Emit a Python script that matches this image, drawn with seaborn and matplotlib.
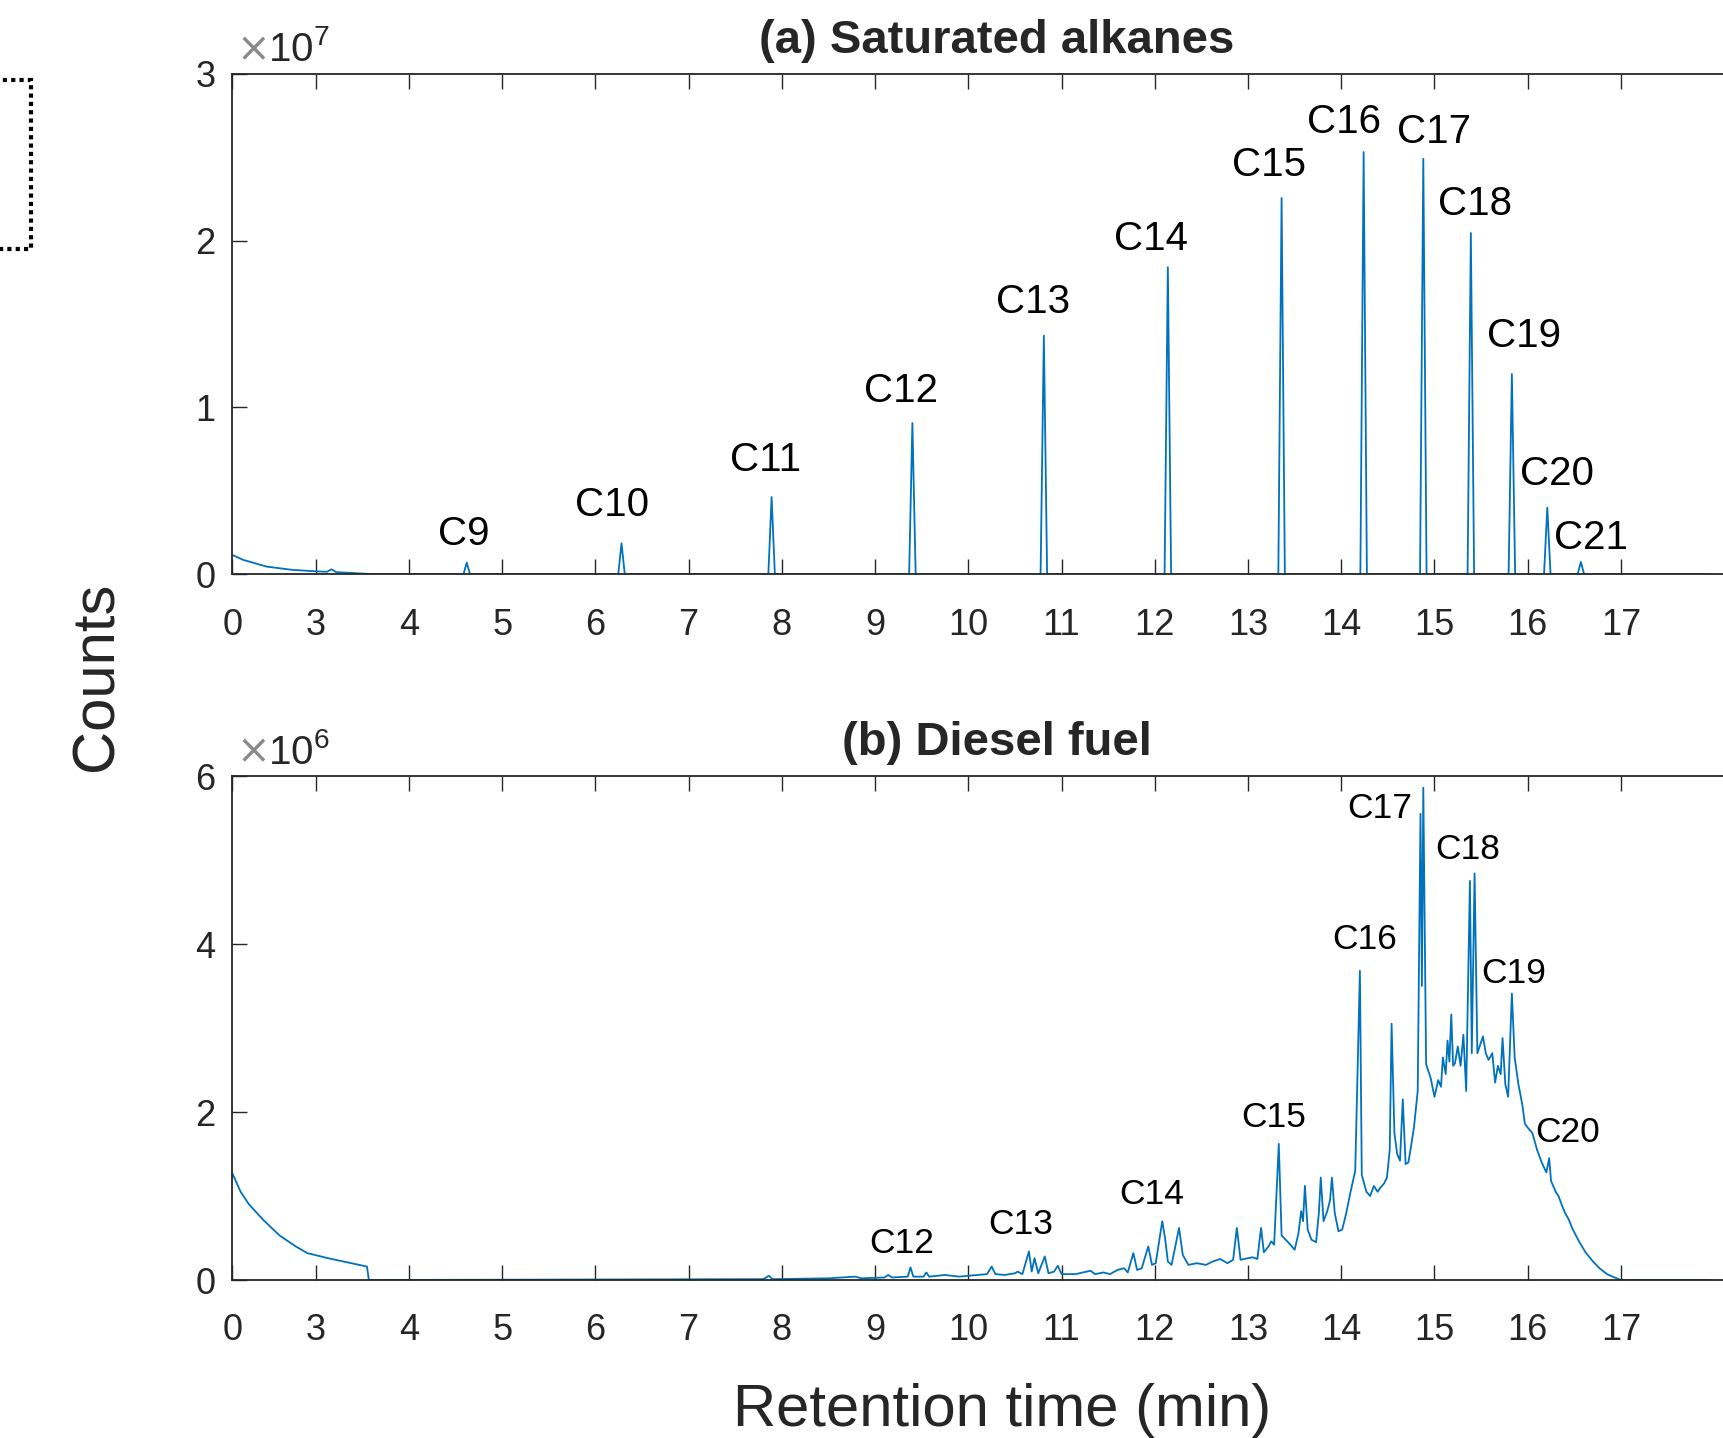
import numpy as np
import pandas as pd
import matplotlib
matplotlib.use("Agg")
import matplotlib.pyplot as plt
import seaborn as sns
from matplotlib.patches import Rectangle
from matplotlib.ticker import FixedLocator, FuncFormatter

# ---- (a) saturated alkane standard -------------------------------------
# solvent tail / baseline before the first peak (min, counts)
std_base_t = [0.0, 0.4, 1.24, 2.19, 3.03, 3.12, 3.17, 3.22, 3.65, 17.96]
std_base_c = [1.16e6, 0.86e6, 0.46e6, 0.26e6, 0.17e6, 0.15e6, 0.30e6, 0.13e6, 0.0, 0.0]

std_names = ['C9', 'C10', 'C11', 'C12', 'C13', 'C14', 'C15', 'C16', 'C17',
             'C18', 'C19', 'C20', 'C21']
std_rt = [4.62, 6.28, 7.89, 9.40, 10.81, 12.14, 13.36, 14.24, 14.88,
          15.39, 15.83, 16.21, 16.57]
std_height = [0.07e7, 0.186e7, 0.463e7, 0.906e7, 1.43e7, 1.84e7, 2.255e7,
              2.53e7, 2.49e7, 2.045e7, 1.20e7, 0.40e7, 0.074e7]
# where the peak names sit
std_lab_t = [4.59, 6.18, 7.82, 9.28, 10.69, 11.96, 13.22, 14.03, 14.99,
             15.43, 15.96, 16.31, 16.68]
std_lab_c = [0.244e7, 0.415e7, 0.685e7, 1.10e7, 1.63e7, 2.01e7, 2.45e7,
             2.71e7, 2.65e7, 2.22e7, 1.43e7, 0.60e7, 0.215e7]

# ---- (b) diesel fuel trace (min, counts in millions) ---------------------
diesel_t = [0.00, 0.30, 0.60, 1.13, 1.70, 2.28, 2.70, 3.13, 3.47, 3.55, 3.57,
            7.80, 7.86, 7.90, 8.50, 8.79, 8.85, 9.10, 9.14, 9.18, 9.35, 9.38,
            9.41, 9.52, 9.55, 9.58, 9.75, 9.90, 10.10, 10.20, 10.25, 10.29,
            10.39, 10.50, 10.53, 10.58, 10.65, 10.68, 10.71, 10.75, 10.82,
            10.86, 10.92, 10.96, 11.00, 11.15, 11.31, 11.36, 11.45, 11.52,
            11.60, 11.67, 11.71, 11.77, 11.81, 11.86, 11.93, 11.97, 12.01,
            12.08, 12.11, 12.14, 12.18, 12.26, 12.30, 12.36, 12.45, 12.55,
            12.62, 12.70, 12.78, 12.84, 12.88, 12.92, 13.00, 13.05, 13.10,
            13.14, 13.17, 13.22, 13.25, 13.28, 13.33, 13.36, 13.43, 13.50,
            13.54, 13.57, 13.59, 13.61, 13.64, 13.68, 13.73, 13.76, 13.78,
            13.81, 13.85, 13.88, 13.90, 13.93, 13.97, 14.01, 14.05, 14.10,
            14.15, 14.20, 14.22, 14.27, 14.31, 14.35, 14.39, 14.42, 14.46,
            14.49, 14.52, 14.54, 14.57, 14.60, 14.63, 14.66, 14.69, 14.72,
            14.75, 14.78, 14.82, 14.85, 14.865, 14.88, 14.91, 14.96, 15.00,
            15.04, 15.07, 15.09, 15.12, 15.14, 15.16, 15.18, 15.20, 15.22,
            15.25, 15.28, 15.31, 15.34, 15.38, 15.40, 15.43, 15.46, 15.49,
            15.52, 15.55, 15.58, 15.62, 15.65, 15.68, 15.71, 15.73, 15.76,
            15.79, 15.83, 15.86, 15.90, 15.94, 15.97, 16.01, 16.05, 16.10,
            16.15, 16.20, 16.23, 16.25, 16.30, 16.33, 16.37, 16.40, 16.44,
            16.48, 16.55, 16.62, 16.70, 16.77, 16.85, 16.91, 17.00, 17.96]
diesel_c = [1.27, 1.05, 0.90, 0.71, 0.53, 0.40, 0.32, 0.26, 0.18, 0.16, 0.0,
            0.01, 0.05, 0.01, 0.02, 0.04, 0.02, 0.03, 0.06, 0.03, 0.04, 0.15,
            0.04, 0.04, 0.09, 0.04, 0.06, 0.04, 0.06, 0.07, 0.16, 0.07,
            0.06, 0.08, 0.10, 0.07, 0.34, 0.10, 0.26, 0.08, 0.28,
            0.08, 0.10, 0.17, 0.07, 0.07, 0.11, 0.07, 0.09, 0.07,
            0.12, 0.14, 0.09, 0.32, 0.12, 0.14, 0.40, 0.18, 0.20,
            0.70, 0.50, 0.22, 0.18, 0.62, 0.30, 0.18, 0.20, 0.18,
            0.22, 0.25, 0.20, 0.24, 0.62, 0.24, 0.26, 0.27, 0.25,
            0.62, 0.33, 0.40, 0.46, 0.42, 1.62, 0.53, 0.45, 0.36,
            0.55, 0.82, 0.70, 1.12, 0.60, 0.48, 0.45, 0.80, 1.22,
            0.70, 0.82, 0.95, 1.22, 0.80, 0.58, 0.60, 0.78, 1.05,
            1.30, 3.68, 1.25, 1.05, 1.00, 1.12, 1.05, 1.10, 1.15,
            1.22, 1.55, 3.05, 1.75, 1.50, 1.42, 2.15, 1.38, 1.40,
            1.60, 1.82, 2.25, 5.55, 3.50, 5.86, 2.57, 2.40, 2.18,
            2.38, 2.30, 2.65, 2.45, 2.85, 2.60, 3.16, 2.55, 2.58,
            2.78, 2.55, 2.92, 2.25, 4.75, 2.70, 4.84, 2.70, 2.80,
            2.90, 2.70, 2.62, 2.70, 2.35, 2.55, 2.45, 2.88, 2.33,
            2.18, 3.41, 2.65, 2.33, 2.10, 1.86, 1.80, 1.75, 1.55,
            1.40, 1.28, 1.45, 1.18, 1.05, 1.00, 0.88, 0.80, 0.72,
            0.61, 0.46, 0.33, 0.22, 0.14, 0.07, 0.04, 0.0, 0.0]

diesel_names = ['C12', 'C13', 'C14', 'C15', 'C16', 'C17', 'C18', 'C19', 'C20']
diesel_lab_t = [9.29, 10.56, 11.97, 13.27, 14.25, 14.41, 15.36, 15.85, 16.43]
diesel_lab_c = [0.43e6, 0.66e6, 1.02e6, 1.93e6, 4.05e6, 5.61e6, 5.12e6,
                3.65e6, 1.76e6]

x_ticks = [0, 3, 4, 5, 6, 7, 8, 9, 10, 11, 12, 13, 14, 15, 16, 17]

LINE = '#0072BD'
DARK = '#262626'
PEAK_HW = 0.035   # half width of a peak at its base, min


def squeeze(t):
    # first three minutes (solvent delay) are drawn compressed
    t = np.asarray(t, dtype=float)
    return np.where(t < 3, t * 0.2982, t - 3 + 0.8946)


def unsqueeze(u):
    u = np.asarray(u, dtype=float)
    return np.where(u < 0.8946, u / 0.2982, u + 3 - 0.8946)


# build the standard's trace from baseline + peaks
pts = list(zip(std_base_t, std_base_c))
for rt, h in zip(std_rt, std_height):
    pts += [(rt - PEAK_HW, 0.0), (rt, h), (rt + PEAK_HW, 0.0)]
pts.sort()
std_df = pd.DataFrame(pts, columns=['time', 'counts'])
diesel_df = pd.DataFrame({'time': diesel_t,
                          'counts': np.array(diesel_c) * 1e6})

sns.set_style('ticks')
plt.rcParams['font.family'] = ['Liberation Sans', 'DejaVu Sans']
plt.rcParams['mathtext.fontset'] = 'custom'
plt.rcParams['mathtext.rm'] = 'Liberation Sans'
plt.rcParams['mathtext.it'] = 'Liberation Sans:italic'
plt.rcParams['mathtext.bf'] = 'Liberation Sans:bold'

W, H = 1723, 1438
fig = plt.figure(figsize=(W / 100, H / 100), dpi=100)
left = 232.3 / W
width = 1528.5 / W
ax1 = fig.add_axes([left, 1 - 574.3 / H, width, (574.3 - 73.6) / H])
ax2 = fig.add_axes([left, 1 - 1280 / H, width, (1280 - 776) / H])


def style_axis(ax, ymax, yticks, power):
    ax.set_xscale('function', functions=(squeeze, unsqueeze))
    ax.set_xlim(0, 18.5)
    ax.set_ylim(0, ymax)
    ax.xaxis.set_major_locator(FixedLocator(x_ticks))
    ax.xaxis.set_minor_locator(FixedLocator([]))
    ax.set_xticklabels([str(v) for v in x_ticks])
    ax.yaxis.set_major_locator(FixedLocator(yticks))
    ax.yaxis.set_major_formatter(
        FuncFormatter(lambda v, p: '%g' % (v / 10 ** power)))
    ax.tick_params(axis='both', direction='in', length=15 / 1.389, width=1.0,
                   color=DARK, labelcolor=DARK, labelsize=26,
                   top=True, right=True)
    ax.tick_params(axis='x', pad=24)
    ax.tick_params(axis='y', pad=12)
    for sp in ax.spines.values():
        sp.set_color(DARK)
        sp.set_linewidth(1.3)
    ax.set_xlabel('')
    ax.set_ylabel('')
    # MATLAB-style exponent above the y axis
    ax.annotate('\u00d7', xy=(0, 1), xycoords='axes fraction', xytext=(3, 9),
                textcoords='offset points', ha='left', va='baseline',
                fontsize=29, color='#8a8a8a', family='DejaVu Sans')
    ax.annotate(r'$\mathregular{10^{%d}}$' % power, xy=(0, 1),
                xycoords='axes fraction', xytext=(25.5, 9),
                textcoords='offset points', ha='left', va='baseline',
                fontsize=29, color=DARK)


sns.lineplot(data=std_df, x='time', y='counts', ax=ax1, color=LINE,
             linewidth=1.3, estimator=None, sort=False)
sns.lineplot(data=diesel_df, x='time', y='counts', ax=ax2, color=LINE,
             linewidth=1.3, estimator=None, sort=False)

style_axis(ax1, 3e7, [0, 1e7, 2e7, 3e7], 7)
style_axis(ax2, 6e6, [0, 2e6, 4e6, 6e6], 6)

for name, t, c in zip(std_names, std_lab_t, std_lab_c):
    ax1.text(t, c, name, ha='center', va='center', fontsize=29, color='black')
for name, t, c in zip(diesel_names, diesel_lab_t, diesel_lab_c):
    ax2.text(t, c, name, ha='center', va='center', fontsize=25.5, color='black')

ax1.set_title('(a) Saturated alkanes', fontsize=34, fontweight='bold', pad=15)
ax2.set_title('(b) Diesel fuel', fontsize=34, fontweight='bold', pad=15)

fig.text(97 / W, 1 - 676 / H, 'Counts', rotation=90, ha='center',
         va='center', fontsize=43, color=DARK)
fig.text(1002 / W, 1 - 1410 / H, 'Retention time (min)', ha='center',
         va='center', fontsize=43, color=DARK)

# dotted frame cut off at the left edge
fig.patches.append(Rectangle((-0.1, 1 - 249 / H), 0.1 + 31 / W, (249 - 80) / H,
                             transform=fig.transFigure, fill=False,
                             edgecolor='black', linewidth=3,
                             linestyle=(0, (1, 1))))

fig.savefig('out.png', dpi=100)
